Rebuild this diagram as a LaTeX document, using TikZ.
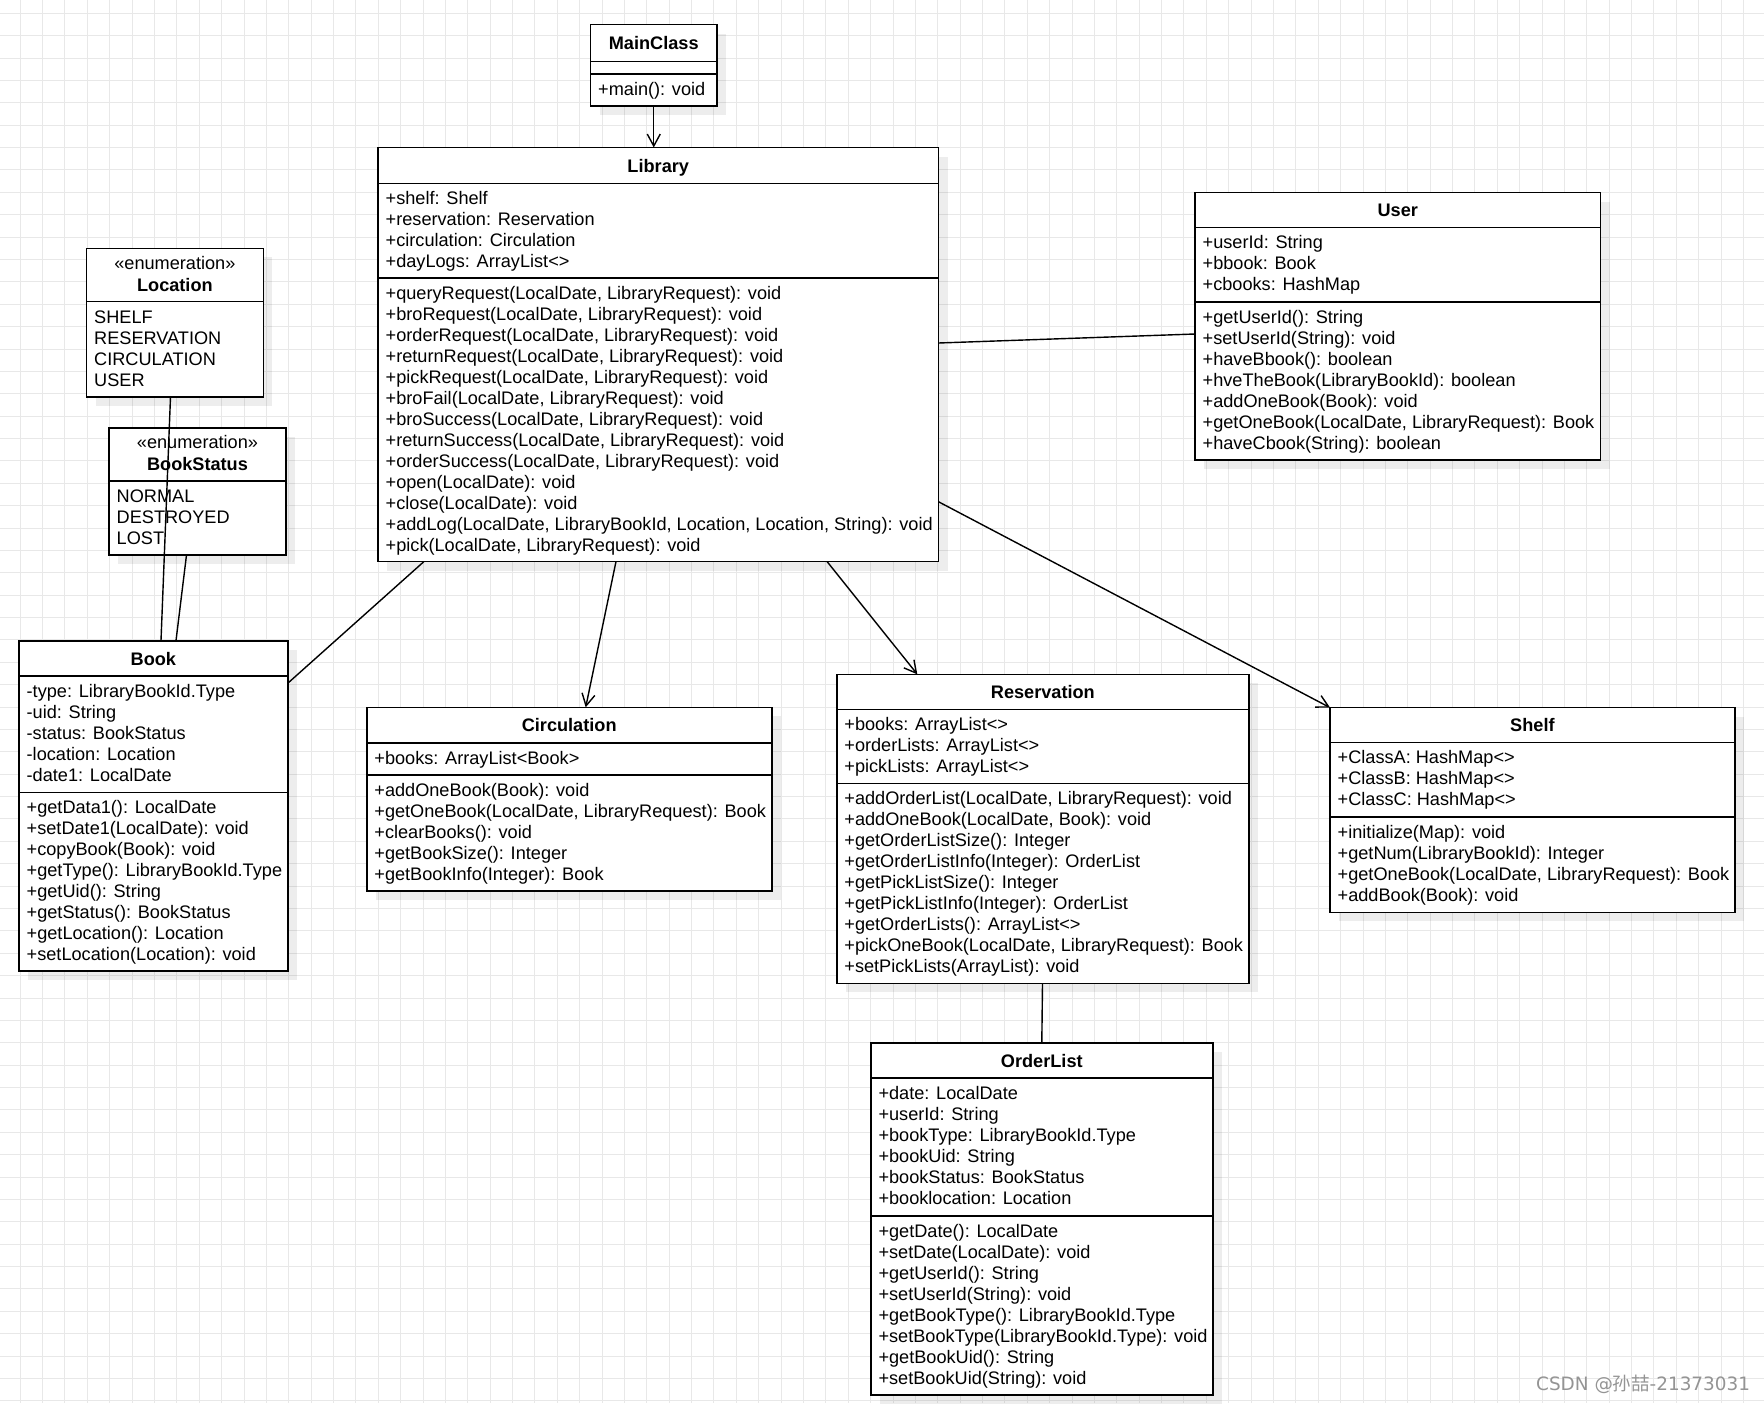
\documentclass[tikz,border=0pt]{standalone}
\usepackage{fontspec}
\setmainfont{Liberation Sans}
\newfontfamily\cjkfont{Noto Sans CJK SC}
\newfontfamily\wmfont{DejaVu Sans}
\usetikzlibrary{arrows.meta,calc}
\tikzset{
  cls/.style={draw=black, line width=1.6pt, fill=white, inner sep=0pt, outer sep=0pt, anchor=north west},
  shad/.style={fill=black, opacity=0.07},
  ttl/.style={font=\fontsize{18.15}{21}\selectfont\bfseries, anchor=base, inner sep=0pt},
  etl/.style={font=\fontsize{18.15}{21}\selectfont, anchor=base, inner sep=0pt},
  txt/.style={font=\fontsize{18.15}{21}\selectfont, anchor=north west, align=left, inner sep=0pt},
  divl/.style={line width=1.6pt},
  conn/.style={line width=1.4pt},
  arr/.style={conn, -{Straight Barb[length=12pt,width=13pt,line width=1.4pt]}},
  gridl/.style={draw=black!9, line width=1pt},
}
\newcommand\umlbox[5]{%
  \fill[shad] (#2+9,#3+9) rectangle (#4+9,#5+9);
  \node[cls, minimum width={#4-#2}, minimum height={#5-#3}] (#1) at (#2,#3) {};
}
\begin{document}
\begin{tikzpicture}[x=1pt,y=-1pt]
\useasboundingbox (0,0) rectangle (1764,1403);
\fill[white] (0,0) rectangle (1764,1403);
% grid
\foreach \i in {0,...,77} { \draw[gridl] ({20.2+22.38*\i},0) -- ({20.2+22.38*\i},1403); }
\foreach \j in {0,...,62} { \draw[gridl] (0,{13.3+22.38*\j}) -- (1764,{13.3+22.38*\j}); }

% MainClass
\umlbox{main}{590.5}{24.5}{717}{105.7}
\draw[divl] (590.5,61.5) -- (717,61.5);
\draw[divl] (590.5,74) -- (717,74);
\node[ttl] (main-t) at (653.75,49.8) {MainClass};
\node[txt] (main-m) at (598,81) {\strut +main(): void};

% Library
\umlbox{lib}{378}{147.5}{938.5}{561.5}
\draw[divl] (378,183.5) -- (938.5,183.5);
\draw[divl] (378,278) -- (938.5,278);
\node[ttl] (lib-t) at (658.25,172.3) {Library};
\node[txt] (lib-a) at (385.5,190) {\strut +shelf: Shelf\\+reservation: Reservation\\+circulation: Circulation\\+dayLogs: ArrayList<>};
\node[txt] (lib-m) at (385.5,284.5) {\strut +queryRequest(LocalDate, LibraryRequest): void\\
+broRequest(LocalDate, LibraryRequest): void\\
+orderRequest(LocalDate, LibraryRequest): void\\
+returnRequest(LocalDate, LibraryRequest): void\\
+pickRequest(LocalDate, LibraryRequest): void\\
+broFail(LocalDate, LibraryRequest): void\\
+broSuccess(LocalDate, LibraryRequest): void\\
+returnSuccess(LocalDate, LibraryRequest): void\\
+orderSuccess(LocalDate, LibraryRequest): void\\
+open(LocalDate): void\\
+close(LocalDate): void\\
+addLog(LocalDate, LibraryBookId, Location, Location, String): void\\
+pick(LocalDate, LibraryRequest): void};

% User
\umlbox{user}{1195}{192.5}{1600.5}{459.7}
\draw[divl] (1195,227.5) -- (1600.5,227.5);
\draw[divl] (1195,302) -- (1600.5,302);
\node[ttl] (user-t) at (1397.75,216.8) {User};
\node[txt] (user-a) at (1202.5,234) {\strut +userId: String\\+bbook: Book\\+cbooks: HashMap};
\node[txt] (user-m) at (1202.5,308.5) {\strut +getUserId(): String\\
+setUserId(String): void\\
+haveBbook(): boolean\\
+hveTheBook(LibraryBookId): boolean\\
+addOneBook(Book): void\\
+getOneBook(LocalDate, LibraryRequest): Book\\
+haveCbook(String): boolean};

% Location enum
\umlbox{loc}{86.5}{248.4}{263.3}{396.9}
\draw[divl] (86.5,301.6) -- (263.3,301.6);
\node[etl] (loc-s) at (174.9,269.3) {«enumeration»};
\node[ttl] (loc-t) at (174.9,291) {Location};
\node[txt] (loc-v) at (94,308.3) {\strut SHELF\\RESERVATION\\CIRCULATION\\USER};

% BookStatus enum
\umlbox{bs}{109}{427.7}{286}{555}
\draw[divl] (109,480.8) -- (286,480.8);
\node[etl] (bs-s) at (197.5,448.3) {«enumeration»};
\node[ttl] (bs-t) at (197.5,470) {BookStatus};
\node[txt] (bs-v) at (116.5,487.5) {\strut NORMAL\\DESTROYED\\LOST};

% Book
\umlbox{book}{19}{640.7}{287.7}{970.7}
\draw[divl] (19,675.7) -- (287.7,675.7);
\draw[divl] (19,792.3) -- (287.7,792.3);
\node[ttl] (book-t) at (153.35,665) {Book};
\node[txt] (book-a) at (26.5,682.2) {\strut -type: LibraryBookId.Type\\-uid: String\\-status: BookStatus\\-location: Location\\-date1: LocalDate};
\node[txt] (book-m) at (26.5,798.6) {\strut +getData1(): LocalDate\\
+setDate1(LocalDate): void\\
+copyBook(Book): void\\
+getType(): LibraryBookId.Type\\
+getUid(): String\\
+getStatus(): BookStatus\\
+getLocation(): Location\\
+setLocation(Location): void};

% Circulation
\umlbox{circ}{366.7}{707.3}{771.7}{890.7}
\draw[divl] (366.7,742.7) -- (771.7,742.7);
\draw[divl] (366.7,775) -- (771.7,775);
\node[ttl] (circ-t) at (569.2,731.9) {Circulation};
\node[txt] (circ-a) at (374.2,749.2) {\strut +books: ArrayList<Book>};
\node[txt] (circ-m) at (374.2,781.5) {\strut +addOneBook(Book): void\\
+getOneBook(LocalDate, LibraryRequest): Book\\
+clearBooks(): void\\
+getBookSize(): Integer\\
+getBookInfo(Integer): Book};

% Reservation
\umlbox{res}{836.7}{674.3}{1249}{983.3}
\draw[divl] (836.7,709.3) -- (1249,709.3);
\draw[divl] (836.7,783.3) -- (1249,783.3);
\node[ttl] (res-t) at (1042.85,698.6) {Reservation};
\node[txt] (res-a) at (844.2,715.3) {\strut +books: ArrayList<>\\+orderLists: ArrayList<>\\+pickLists: ArrayList<>};
\node[txt] (res-m) at (844.2,789.5) {\strut +addOrderList(LocalDate, LibraryRequest): void\\
+addOneBook(LocalDate, Book): void\\
+getOrderListSize(): Integer\\
+getOrderListInfo(Integer): OrderList\\
+getPickListSize(): Integer\\
+getPickListInfo(Integer): OrderList\\
+getOrderLists(): ArrayList<>\\
+pickOneBook(LocalDate, LibraryRequest): Book\\
+setPickLists(ArrayList): void};

% Shelf
\umlbox{shelf}{1330}{707.6}{1734.8}{912.4}
\draw[divl] (1330,742.5) -- (1734.8,742.5);
\draw[divl] (1330,816.8) -- (1734.8,816.8);
\node[ttl] (shelf-t) at (1532.4,731.8) {Shelf};
\node[txt] (shelf-a) at (1337.5,749) {\strut +ClassA: HashMap<>\\+ClassB: HashMap<>\\+ClassC: HashMap<>};
\node[txt] (shelf-m) at (1337.5,823.3) {\strut +initialize(Map): void\\
+getNum(LibraryBookId): Integer\\
+getOneBook(LocalDate, LibraryRequest): Book\\
+addBook(Book): void};

% OrderList
\umlbox{ol}{870.8}{1042.9}{1212.8}{1395}
\draw[divl] (870.8,1077.8) -- (1212.8,1077.8);
\draw[divl] (870.8,1216.1) -- (1212.8,1216.1);
\node[ttl] (ol-t) at (1041.8,1067.1) {OrderList};
\node[txt] (ol-a) at (878.3,1084.3) {\strut +date: LocalDate\\
+userId: String\\
+bookType: LibraryBookId.Type\\
+bookUid: String\\
+bookStatus: BookStatus\\
+booklocation: Location};
\node[txt] (ol-m) at (878.3,1222.4) {\strut +getDate(): LocalDate\\
+setDate(LocalDate): void\\
+getUserId(): String\\
+setUserId(String): void\\
+getBookType(): LibraryBookId.Type\\
+setBookType(LibraryBookId.Type): void\\
+getBookUid(): String\\
+setBookUid(String): void};

% connectors
\draw[arr] (main.south) -- (main.south |- lib.north);
\draw[conn] ($(lib.north east)+(0,195.5)$) -- ($(user.north west)+(0,141.5)$);
\draw[conn] ($(loc.south west)+(84,0)$) -- ($(book.north west)+(142,0)$);
\draw[conn] ($(bs.south west)+(77.5,0)$) -- ($(book.north west)+(157,0)$);
\draw[conn] ($(lib.south west)+(46,0)$) -- ($(book.north east)+(0,42.6)$);
\draw[arr] ($(lib.south west)+(238,0)$) -- ($(circ.north west)+(219,0)$);
\draw[arr] ($(lib.south west)+(449,0)$) -- ($(res.north west)+(80.6,0)$);
\draw[arr] ($(lib.north east)+(0,354.25)$) -- (shelf.north west);
\draw[conn] ($(res.south west)+(205.8,0)$) -- ($(ol.north west)+(171,0)$);

% watermark
\node[anchor=base west, inner sep=0pt, text=black!42, font=\wmfont\fontsize{18.4}{22}\selectfont] (wm) at (1536,1390) {CSDN @{\cjkfont 孙喆}-21373031};
\end{tikzpicture}
\end{document}
